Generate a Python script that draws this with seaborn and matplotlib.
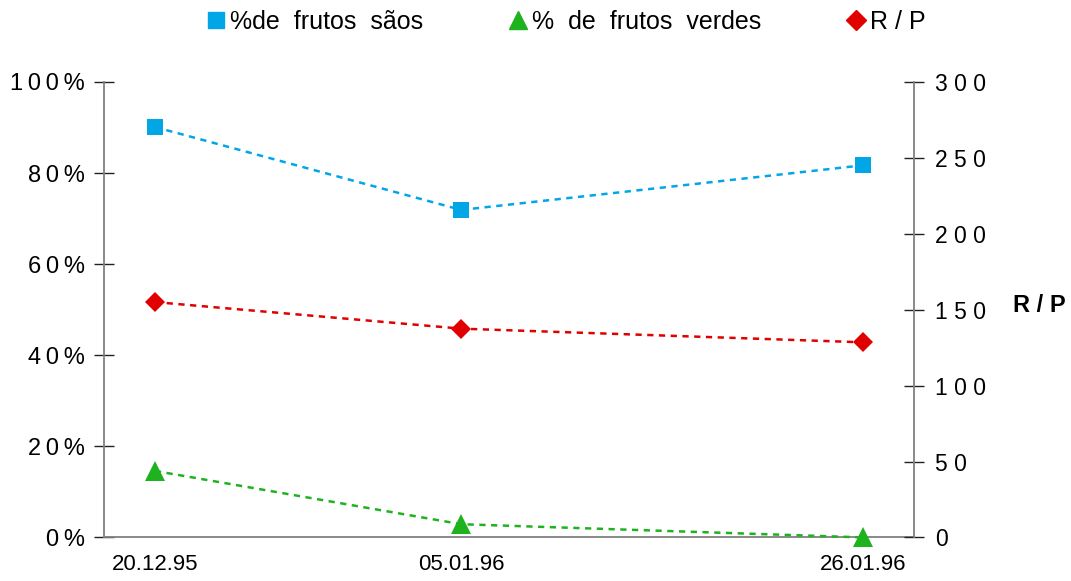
import pandas as pd
import numpy as np
import matplotlib.pyplot as plt
from matplotlib.lines import Line2D
import seaborn as sns

# Data
datas = ["1995-12-20", "1996-01-05", "1996-01-26"]
rotulos = ["20.12.95", "05.01.96", "26.01.96"]
frutos_saos = [90.1, 71.9, 81.7]
frutos_verdes = [14.6, 2.9, 0.0]
rp = [155, 137.5, 128.5]
ticks_esq = ["0\u2009%", "2\u20090\u2009%", "4\u20090\u2009%", "6\u20090\u2009%",
             "8\u20090\u2009%", "1\u20090\u20090\u2009%"]
ticks_dir = ["0", "5 0", "1 0 0", "1 5 0", "2 0 0", "2 5 0", "3 0 0"]

df = pd.DataFrame({"data": pd.to_datetime(datas),
                   "saos": frutos_saos,
                   "verdes": frutos_verdes,
                   "rp": rp})

sns.set_theme(style="white")
plt.rcParams['font.family'] = ['Liberation Sans', 'DejaVu Sans']
plt.rcParams['text.color'] = 'black'
plt.rcParams['axes.labelcolor'] = 'black'
plt.rcParams['xtick.color'] = 'black'
plt.rcParams['ytick.color'] = 'black'

fig, ax = plt.subplots(figsize=(10.71, 5.81), dpi=100)
ax2 = ax.twinx()

azul = "#00A6E6"
verde = "#1FB21F"
vermelho = "#E00000"
tracejado = (0, (2.5, 2.2))

sns.lineplot(data=df, x="data", y="saos", ax=ax, color=azul, marker="s",
             markersize=12, markeredgewidth=0, linestyle=tracejado,
             linewidth=1.8, legend=False, clip_on=False, zorder=5)
sns.lineplot(data=df, x="data", y="verdes", ax=ax, color=verde, marker="^",
             markersize=14, markeredgewidth=0, linestyle=tracejado,
             linewidth=1.8, legend=False, clip_on=False, zorder=5)
sns.lineplot(data=df, x="data", y="rp", ax=ax2, color=vermelho, marker="D",
             markersize=10, markeredgewidth=0, linestyle=tracejado,
             linewidth=1.8, legend=False, clip_on=False, zorder=5)

ax.set_ylim(0, 100)
ax2.set_ylim(0, 300)
ax.set_xlim(pd.Timestamp("1995-12-17 08:00"), pd.Timestamp("1996-01-28 15:00"))

ax.set_yticks([0, 20, 40, 60, 80, 100])
ax.set_yticklabels(ticks_esq, fontsize=17)
ax2.set_yticks([0, 50, 100, 150, 200, 250, 300])
ax2.set_yticklabels(ticks_dir, fontsize=16.5)
ax.set_xticks(df["data"])
ax.set_xticklabels(rotulos, fontsize=16)

ax.set_xlabel("")
ax.set_ylabel("")
ax2.set_ylabel("R / P", fontsize=17, fontweight="bold", rotation=0, va="center",
               ha="center", color="black")
ax2.yaxis.set_label_coords(1.155, 0.51)

for a in (ax, ax2):
    for s in a.spines.values():
        s.set_visible(False)
ax.spines["left"].set_visible(True)
ax.spines["bottom"].set_visible(True)
ax2.spines["right"].set_visible(True)
for s in (ax.spines["left"], ax.spines["bottom"], ax2.spines["right"]):
    s.set_color("#808080")
    s.set_linewidth(1.3)

ax.tick_params(axis="y", direction="inout", length=15, width=1, color="#222222", pad=6, left=True)
ax2.tick_params(axis="y", direction="inout", length=15, width=1, color="#222222", pad=8, right=True)
ax.tick_params(axis="x", length=0, pad=12)

handles = [Line2D([], [], color=azul, marker="s", linestyle="none", markersize=11),
           Line2D([], [], color=verde, marker="^", linestyle="none", markersize=13),
           Line2D([], [], color=vermelho, marker="D", linestyle="none", markersize=10)]
fig.legend(handles, ["%de  frutos  sãos", "%  de  frutos  verdes", "R / P"],
           loc="upper center", bbox_to_anchor=(0.527, 1.022), ncol=3, frameon=False,
           fontsize=18, handletextpad=0.05, columnspacing=3.3, handlelength=1)

plt.subplots_adjust(left=0.097, right=0.853, top=0.859, bottom=0.075)
plt.savefig("out.png", dpi=100)
